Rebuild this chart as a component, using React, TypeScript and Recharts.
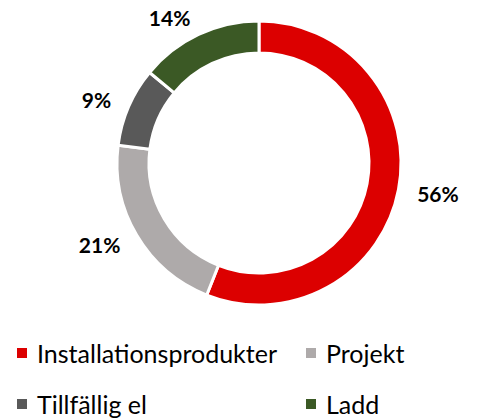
import { PieChart, Pie, Cell } from "recharts";

const categories = ["Installationsprodukter", "Projekt", "Tillfällig el", "Ladd"];
const shares = [56, 21, 9, 14];
const colors = ["#DC0000", "#AEAAAA", "#595959", "#3B5925"];

const data = categories.map((name, i) => ({ name, value: shares[i] }));

const RAD = Math.PI / 180;
const FONT = "Lato, 'Open Sans', sans-serif";

function renderLabel(props: any) {
  const { cx, cy, midAngle, outerRadius, value } = props;
  const cos = Math.cos(-midAngle * RAD);
  const sin = Math.sin(-midAngle * RAD);
  const r = outerRadius + 19;
  return (
    <text
      x={cx + r * cos}
      y={cy + r * sin}
      textAnchor={cos >= 0 ? "start" : "end"}
      dominantBaseline="central"
      fill="#000"
      fontFamily={FONT}
      fontWeight={700}
      fontSize={21}
    >
      {`${value}%`}
    </text>
  );
}

export default function App() {
  return (
    <div
      style={{
        position: "absolute",
        left: 0,
        top: 0,
        width: 479,
        height: 418,
        background: "#fff",
        overflow: "hidden",
        fontFamily: FONT,
      }}
    >
      <PieChart width={479} height={330} margin={{ top: 0, right: 0, bottom: 0, left: 0 }}>
        <Pie
          data={data}
          dataKey="value"
          nameKey="name"
          cx={259}
          cy={163}
          innerRadius={110}
          outerRadius={142}
          startAngle={90}
          endAngle={-270}
          stroke="#fff"
          strokeWidth={3}
          label={renderLabel}
          labelLine={false}
          isAnimationActive={false}
        >
          {data.map((d, i) => (
            <Cell key={d.name} fill={colors[i]} />
          ))}
        </Pie>
      </PieChart>
      <div
        style={{
          position: "absolute",
          left: 17,
          top: 336,
          display: "grid",
          gridTemplateColumns: "289px 160px",
          gridAutoRows: "51px",
          fontSize: 25,
          color: "#000",
        }}
      >
        {data.map((d, i) => (
          <div key={d.name} style={{ display: "flex", alignItems: "center", height: 34 }}>
            <span
              style={{
                display: "inline-block",
                width: 10,
                height: 10,
                background: colors[i],
                marginRight: 10,
                flexShrink: 0,
              }}
            />
            <span style={{ whiteSpace: "nowrap" }}>{d.name}</span>
          </div>
        ))}
      </div>
    </div>
  );
}
